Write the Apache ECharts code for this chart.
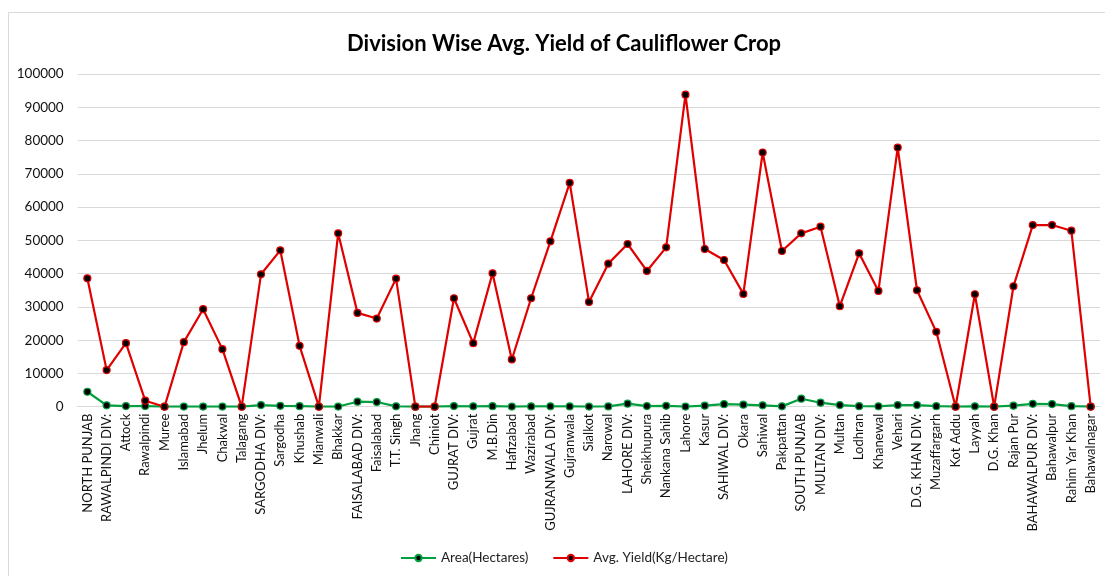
<!DOCTYPE html>
<html>
<head>
<meta charset="utf-8">
<script src="https://cdn.jsdelivr.net/npm/echarts@6/dist/echarts.min.js"></script>
<style>
  html, body { margin: 0; padding: 0; background: #fff; }
  #chart { width: 1105px; height: 576px; }
</style>
</head>
<body>
<div id="chart"></div>
<script>
// Districts and divisions of Punjab, in report order
const categories = [
  'NORTH PUNJAB', 'RAWALPINDI DIV:', 'Attock', 'Rawalpindi', 'Muree', 'Islamabad',
  'Jhelum', 'Chakwal', 'Talagang', 'SARGODHA DIV:', 'Sargodha', 'Khushab',
  'Mianwali', 'Bhakkar', 'FAISALABAD DIV:', 'Faisalabad', 'T.T. Singh', 'Jhang',
  'Chiniot', 'GUJRAT DIV:', 'Gujrat', 'M.B.Din', 'Hafizabad', 'Wazirabad',
  'GUJRANWALA DIV:', 'Gujranwala', 'Sialkot', 'Narowal', 'LAHORE DIV:', 'Sheikhupura',
  'Nankana Sahib', 'Lahore', 'Kasur', 'SAHIWAL DIV:', 'Okara', 'Sahiwal',
  'Pakpattan', 'SOUTH PUNJAB', 'MULTAN DIV:', 'Multan', 'Lodhran', 'Khanewal',
  'Vehari', 'D.G. KHAN DIV:', 'Muzaffargarh', 'Kot Addu', 'Layyah', 'D.G. Khan',
  'Rajan Pur', 'BAHAWALPUR DIV:', 'Bahawalpur', 'Rahim Yar Khan', 'Bahawalnagar'
];

// Cultivated area (hectares)
const areaHectares = [
  4500, 400, 200, 200, 50, 50,
  50, 50, 50, 500, 250, 150,
  30, 50, 1500, 1400, 100, 20,
  20, 200, 100, 150, 50, 80,
  100, 80, 50, 80, 900, 200,
  250, 50, 300, 750, 600, 400,
  100, 2400, 1200, 500, 150, 100,
  500, 500, 150, 30, 100, 20,
  300, 850, 800, 150, 50
];

// Average yield (kg per hectare)
const avgYield = [
  38600, 11000, 19100, 1800, 0, 19400,
  29300, 17300, 0, 39800, 47000, 18300,
  0, 52100, 28200, 26500, 38500, 0,
  0, 32600, 19100, 40100, 14200, 32600,
  49700, 67300, 31500, 43000, 48900, 40800,
  47900, 93800, 47400, 44100, 33900, 76400,
  46800, 52100, 54100, 30200, 46100, 34800,
  77900, 35000, 22500, 0, 33800, 0,
  36200, 54600, 54600, 52900, 0
];

// Y axis ticks
const yMin = 0;
const yMax = 100000;
const yStep = 10000;

const FONT = 'Lato, "Open Sans", sans-serif';
const GREEN = '#00A03E';
const RED = '#E00000';

const chart = echarts.init(document.getElementById('chart'), null, { renderer: 'canvas' });

function lineSeries(name, data, color) {
  return {
    name: name,
    type: 'line',
    data: data,
    symbol: 'circle',
    symbolSize: 7,
    showSymbol: true,
    lineStyle: { color: color, width: 2.2 },
    itemStyle: { color: '#000', borderColor: color, borderWidth: 1.2 },
    emphasis: { disabled: true },
    animation: false
  };
}

chart.setOption({
  animation: false,
  backgroundColor: '#fff',
  graphic: [{
    type: 'rect',
    z: -10,
    shape: { x: 8.5, y: 12.5, width: 1200, height: 700 },
    style: { fill: '#fff', stroke: '#d9d9d9', lineWidth: 1 }
  }],
  title: {
    text: 'Division Wise Avg. Yield of Cauliflower Crop',
    left: 342,
    top: 28,
    textStyle: { fontFamily: FONT, fontSize: 22, fontWeight: 'bold', color: '#000' }
  },
  legend: {
    bottom: 6,
    left: 395,
    itemWidth: 35,
    itemHeight: 8,
    itemGap: 24,
    textStyle: { fontFamily: FONT, fontSize: 13.5, color: '#222' },
    data: ['Area(Hectares)', 'Avg. Yield(Kg/Hectare)']
  },
  grid: { left: 77.7, right: 4.7, top: 74, bottom: 169.3, containLabel: false },
  xAxis: {
    type: 'category',
    data: categories,
    boundaryGap: true,
    axisLine: { show: true, lineStyle: { color: '#d9d9d9', width: 1 } },
    axisTick: { show: false },
    axisLabel: {
      rotate: 90,
      interval: 0,
      margin: 7,
      fontFamily: FONT,
      fontSize: 13,
      color: '#111'
    }
  },
  yAxis: {
    type: 'value',
    min: yMin,
    max: yMax,
    interval: yStep,
    axisLine: { show: false },
    axisTick: { show: false },
    splitLine: { lineStyle: { color: '#d9d9d9', width: 1 } },
    axisLabel: {
      margin: 14,
      fontFamily: FONT,
      fontSize: 13.5,
      color: '#111',
      formatter: function (v) { return String(v); }
    }
  },
  series: [
    lineSeries('Area(Hectares)', areaHectares, GREEN),
    lineSeries('Avg. Yield(Kg/Hectare)', avgYield, RED)
  ]
});
</script>
</body>
</html>
